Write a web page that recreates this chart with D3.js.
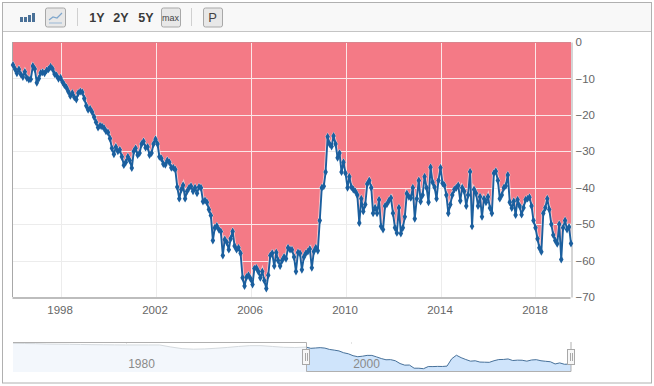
<!DOCTYPE html>
<html>
<head>
<meta charset="utf-8">
<script src="https://cdn.jsdelivr.net/npm/d3@7"></script>
<style>
  html, body { margin: 0; padding: 0; background: #fff; }
  svg { display: block; font-family: "Liberation Sans", Arial, sans-serif; }
</style>
</head>
<body>
<div id="chart"></div>
<script>
// monthly values, one row per year, first point is Jan 1996
const monthlyValues = [
  -6.3, -7.4, -8.6, -7.5, -8.9, -9.6, -8.2, -9.9, -10.3, -10.2, -6.6, -7.4,
  -11.2, -10, -8.5, -8.3, -8.6, -7.8, -7.5, -6.8, -7.4, -8.8, -9.2, -10.1,
  -9.8, -11, -11.8, -12.5, -13.6, -14.8, -14, -15.2, -15.8, -14, -13.6, -13.8,
  -15.5, -17.5, -18.6, -18.3, -19.2, -20.6, -22, -23.5, -23, -23.2, -23.6, -24.5,
  -24.8, -26.5, -29.2, -30.8, -28.8, -30, -29.6, -31.5, -33.8, -33, -31.5, -32.5,
  -34.6, -30, -29.2, -31, -30.5, -28, -27.3, -29, -28.8, -31, -30.5, -28,
  -26.7, -28, -31.5, -32, -33.5, -33.7, -32.5, -33, -34.5, -34.5, -35, -39.8,
  -43, -40.5, -39.3, -43, -41, -40, -39.6, -41, -40, -41.5, -39.8, -40,
  -43.8, -43.5, -44, -46, -47.6, -54.5, -51, -50.5, -51.5, -52, -58.6, -54.2,
  -55, -57, -54, -52, -56, -57, -56.5, -58, -64.7, -67, -64.5, -64,
  -65, -66.6, -62.2, -62, -63, -64.7, -63, -65.5, -67.7, -64, -58.6, -58,
  -61.5, -57.8, -60, -61.5, -60, -59, -59.5, -56.5, -57, -57, -59, -63,
  -57.8, -58, -62.5, -59, -58, -57.5, -56.8, -62, -57.5, -56.5, -57.3, -49,
  -40, -39.6, -35.7, -26, -28, -28.7, -25.8, -28, -31.8, -30.5, -35.7, -33,
  -36, -40, -37, -39.8, -40.5, -41, -42, -49.7, -43, -46.5, -44.6, -39,
  -38, -40, -47, -45.5, -47, -43.3, -50.6, -51.5, -45, -44.5, -43.5, -42.8,
  -47, -51, -52.4, -45.5, -52.6, -51, -48, -41.6, -42.5, -42.8, -40, -48.5,
  -43, -38, -43.8, -42, -37, -40, -44, -34.4, -38.5, -39.8, -43, -38,
  -34.5, -38.8, -39.3, -42, -47, -44.6, -42, -40.5, -40, -39.4, -43.6, -40,
  -41, -45, -42, -35.6, -50.6, -40.5, -41.5, -45, -42.5, -48, -43, -44,
  -42.5, -45.6, -47, -36, -35.5, -38, -43, -42, -40, -39.5, -36.5, -44,
  -45.6, -43.7, -47.5, -43.3, -45, -47.4, -45.5, -43.3, -43, -42.6, -45, -49,
  -51, -54, -56.5, -57.6, -47, -45.5, -43, -46, -50, -53, -54.5, -55.4,
  -50, -59.7, -51, -49, -51.5, -50.8, -55.3
];
// yearly values for the overview strip before the zoomed range, 1970 to 1995
const overviewEarly = [
  4, 3.5, 3, 2, 1.6, 1.3, 0.8, 0.3, 0, -0.3, -0.5, -0.5, -0.5,
  -0.5, -6, -10.5, -12, -11.3, -9.5, -7.3, -4.6, -2.4, -2.4, -4.6, -6.8, -7.5
];
const xTickYears = [1998, 2002, 2006, 2010, 2014, 2018];
const yTicks = [0, -10, -20, -30, -40, -50, -60, -70];
const overviewTickYears = [1980, 2000];
const rangeButtons = ['1Y', '2Y', '5Y'];

const monthly = monthlyValues.map((v, i) => ({ date: new Date(Date.UTC(1996, i, 1)), value: v }));
// the strip shows the series grouped into short blocks, so it looks calmer than the main line
const grouped = d3.range(0, monthly.length, 5).map(i => {
  const block = monthly.slice(i, i + 5);
  return { date: block[0].date, value: d3.mean(block, d => d.value) };
});
grouped[0].value = monthly[0].value;
grouped.push(monthly[monthly.length - 1]);
grouped[grouped.length - 1] = { date: monthly[monthly.length - 1].date, value: -53 };
const overview = overviewEarly
  .map((v, i) => ({ date: new Date(Date.UTC(1970 + i, 0, 1)), value: v }))
  .concat(grouped);

const width = 654, height = 386;
const margin = { top: 42, right: 83, bottom: 89, left: 13 };

const svg = d3.select('#chart').append('svg')
  .attr('width', width)
  .attr('height', height);

// frame and toolbar
svg.append('rect').attr('x', 2.5).attr('y', 2.5).attr('width', 649).attr('height', 380.5)
  .attr('fill', '#fff').attr('stroke', '#b0b0b0');
svg.append('rect').attr('x', 3).attr('y', 3).attr('width', 648).attr('height', 28).attr('fill', '#f8f8f8');
svg.append('line').attr('x1', 3).attr('x2', 651).attr('y1', 31.5).attr('y2', 31.5).attr('stroke', '#c4c4c4');

const toolbar = svg.append('g');
function button(x, w) {
  toolbar.append('rect').attr('x', x + 0.5).attr('y', 8).attr('width', w).attr('height', 19).attr('rx', 2)
    .attr('fill', '#e8e8e8').attr('stroke', '#a8a8a8');
}
d3.range(4).forEach(i => {
  const h = [5, 5, 7, 9][i];
  toolbar.append('rect').attr('x', 20 + i * 4).attr('y', 22 - h).attr('width', 3).attr('height', h)
    .attr('fill', '#4a7198');
});
button(45, 20);
toolbar.append('path').attr('d', 'M49 20 L53 17 L57 18 L62 13').attr('fill', 'none').attr('stroke', '#7ea6cc').attr('stroke-width', 1.2);
toolbar.append('path').attr('d', 'M49 23 L62 23').attr('fill', 'none').attr('stroke', '#b5c9dc').attr('stroke-width', 1.5);
[77, 191].forEach(x => toolbar.append('line').attr('x1', x + 0.5).attr('x2', x + 0.5).attr('y1', 8).attr('y2', 26).attr('stroke', '#d0d0d0'));
toolbar.selectAll('.range').data(rangeButtons).enter().append('text')
  .attr('class', 'range')
  .attr('x', (d, i) => [97, 121, 146][i])
  .attr('y', 21.5)
  .attr('text-anchor', 'middle')
  .attr('font-size', 12.5)
  .attr('font-weight', 'bold')
  .attr('fill', '#3a3a3a')
  .text(d => d);
button(161, 19);
toolbar.append('text').attr('x', 170.5).attr('y', 21).attr('text-anchor', 'middle').attr('font-size', 9).attr('fill', '#444').text('max');
button(203, 19);
toolbar.append('text').attr('x', 212.5).attr('y', 22).attr('text-anchor', 'middle').attr('font-size', 13).attr('fill', '#444').text('P');

// main plot
const innerW = width - margin.left - margin.right;
const innerH = height - margin.top - margin.bottom;

const xScale = d3.scaleUtc()
  .domain([monthly[0].date, monthly[monthly.length - 1].date])
  .range([margin.left, margin.left + innerW]);
const yScale = d3.scaleLinear()
  .domain([0, -70])
  .range([margin.top, margin.top + innerH]);

const area = d3.area().x(d => xScale(d.date)).y0(yScale(0)).y1(d => yScale(d.value));
const line = d3.line().x(d => xScale(d.date)).y(d => yScale(d.value));

function drawGrid(parent, color) {
  const g = parent.append('g').attr('stroke', color).attr('stroke-width', 1);
  xTickYears.forEach(y => {
    const x = Math.round(xScale(new Date(Date.UTC(y, 0, 1)))) + 0.5;
    g.append('line').attr('x1', x).attr('x2', x).attr('y1', yScale(0)).attr('y2', yScale(-70));
  });
  yTicks.slice(1, -1).forEach(t => {
    const y = Math.round(yScale(t)) + 0.5;
    g.append('line').attr('x1', xScale.range()[0]).attr('x2', xScale.range()[1]).attr('y1', y).attr('y2', y);
  });
}

drawGrid(svg, '#ececec');

svg.append('path').datum(monthly).attr('d', area).attr('fill', '#f47a86');
svg.append('clipPath').attr('id', 'area-clip').append('path').datum(monthly).attr('d', area);
drawGrid(svg.append('g').attr('clip-path', 'url(#area-clip)'), '#fbe6e8');

svg.append('line').attr('x1', margin.left).attr('x2', margin.left + innerW).attr('y1', 42.5).attr('y2', 42.5)
  .attr('stroke', '#d9858e');

// axes
const xAxis = d3.axisBottom(xScale)
  .tickValues(xTickYears.map(y => new Date(Date.UTC(y, 0, 1))))
  .tickFormat(d3.utcFormat('%Y'))
  .tickSize(0)
  .tickPadding(8);
const xg = svg.append('g').attr('transform', `translate(-1,${margin.top + innerH + 0.5})`).call(xAxis);
xg.select('.domain').attr('stroke', '#bdbdbd').attr('stroke-width', 2);
xg.selectAll('text').attr('font-size', 11.5).attr('font-family', 'inherit').attr('fill', '#666');

const yAxis = d3.axisRight(yScale).tickValues(yTicks).tickSize(0).tickPadding(4);
const yg = svg.append('g').attr('transform', `translate(${margin.left + innerW + 0.5},0)`).call(yAxis);
yg.select('.domain').attr('stroke', '#aaa').attr('stroke-width', 1);
yg.selectAll('text').attr('font-size', 11.5).attr('font-family', 'inherit').attr('fill', '#666');

svg.append('line').attr('x1', 12.5).attr('x2', 12.5).attr('y1', margin.top).attr('y2', margin.top + innerH).attr('stroke', '#a8a8a8');

// series with white edge
svg.append('path').datum(monthly).attr('d', line).attr('fill', 'none')
  .attr('stroke', '#fff').attr('stroke-opacity', 0.6).attr('stroke-width', 3.6);
const diamond = d3.symbol().type(d3.symbolDiamond).size(18);
svg.append('g').selectAll('path').data(monthly).enter().append('path')
  .attr('d', diamond)
  .attr('transform', d => `translate(${xScale(d.date)},${yScale(d.value)})`)
  .attr('fill', '#fff')
  .attr('fill-opacity', 0.5)
  .attr('stroke', '#fff')
  .attr('stroke-opacity', 0.5);
svg.append('path').datum(monthly).attr('d', line).attr('fill', 'none')
  .attr('stroke', '#1b5f9e').attr('stroke-width', 1.9).attr('stroke-linejoin', 'round');
svg.append('g').selectAll('path').data(monthly).enter().append('path')
  .attr('d', diamond)
  .attr('transform', d => `translate(${xScale(d.date)},${yScale(d.value)})`)
  .attr('fill', '#1b5f9e');

// overview strip
const navTop = 343, navBottom = 372;
const navX = d3.scaleUtc()
  .domain([new Date(Date.UTC(1970, 0, 1)), monthly[monthly.length - 1].date])
  .range([margin.left, margin.left + innerW]);
const navY = d3.scaleLinear().domain([4, -74]).range([343.3, navBottom]);
const navStart = navX(monthly[0].date);
const navEnd = navX.range()[1];

const navArea = d3.area().x(d => navX(d.date)).y0(navBottom).y1(d => navY(d.value));
const navLine = d3.line().x(d => navX(d.date)).y(d => navY(d.value));

svg.append('clipPath').attr('id', 'nav-left').append('rect')
  .attr('x', margin.left).attr('y', navTop - 2).attr('width', navStart - margin.left).attr('height', 40);
svg.append('clipPath').attr('id', 'nav-right').append('rect')
  .attr('x', navStart).attr('y', navTop - 2).attr('width', navEnd - navStart).attr('height', 40);

svg.append('path').datum(overview).attr('d', navArea).attr('fill', '#f3f7fc').attr('clip-path', 'url(#nav-left)');
svg.append('path').datum(overview).attr('d', navLine).attr('fill', 'none').attr('stroke', '#d5dade').attr('clip-path', 'url(#nav-left)');
svg.append('path').datum(overview).attr('d', navArea).attr('fill', '#cfe4fb').attr('clip-path', 'url(#nav-right)');

overviewTickYears.forEach(y => {
  const x = Math.round(navX(new Date(Date.UTC(y, 0, 1)))) + 0.5;
  svg.append('line').attr('x1', x).attr('x2', x).attr('y1', navTop - 1).attr('y2', navTop + 1).attr('stroke', '#e4e4e4');
  svg.append('text').attr('x', x + 15).attr('y', 368).attr('text-anchor', 'middle')
    .attr('font-size', 12).attr('fill', '#8a8a8a').text(y);
});

svg.append('path').datum(overview).attr('d', navLine).attr('fill', 'none').attr('stroke', '#47719a').attr('stroke-width', 1).attr('clip-path', 'url(#nav-right)');

svg.append('path')
  .attr('d', `M${margin.left},${navTop - 0.5}H${Math.round(navStart) + 0.5}V${navBottom - 0.5}H${navEnd}V${navTop - 1}`)
  .attr('fill', 'none').attr('stroke', '#b0b0b0');

[navStart, navEnd].forEach(x => {
  const h = svg.append('g').attr('transform', `translate(${Math.round(x)},0)`);
  h.append('rect').attr('x', -3.5).attr('y', 349.5).attr('width', 7).attr('height', 15).attr('fill', '#f7f7f7').attr('stroke', '#a8a8a8');
  [-1, 1].forEach(d => h.append('line').attr('x1', d + 0.5).attr('x2', d + 0.5).attr('y1', 353).attr('y2', 361).attr('stroke', '#a8a8a8'));
});
</script>
</body>
</html>
